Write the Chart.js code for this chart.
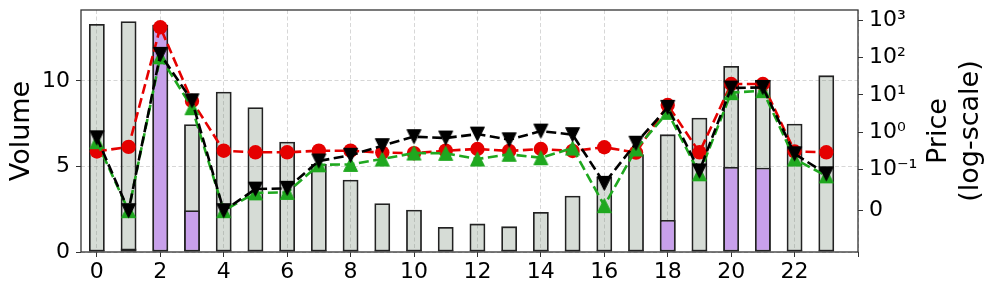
<!DOCTYPE html>
<html>
<head>
<meta charset="utf-8">
<script src="https://cdn.jsdelivr.net/npm/chart.js@4/dist/chart.umd.min.js"></script>
<style>
  body { margin: 0; background: #fff; }
</style>
</head>
<body>
<canvas id="myChart" width="996" height="294"></canvas>
<script>
const hours = [0, 1, 2, 3, 4, 5, 6, 7, 8, 9, 10, 11, 12, 13, 14, 15, 16, 17, 18, 19, 20, 21, 22, 23];

const volume = [13.33, 13.49, 13.29, 7.47, 9.37, 8.46, 6.45, 5.15, 4.23, 2.85, 2.47, 1.46,
  1.66, 1.5, 2.34, 3.29, 4.4, 5.71, 6.88, 7.85, 10.88, 10.06, 7.5, 10.33];
const volumePart = [0.1, 0.2, 13.29, 2.44, 0.1, 0.1, 0.1, 0.1, 0.1, 0.1, 0.1, 0.1,
  0.1, 0.1, 0.1, 0.1, 0.1, 0.1, 1.87, 0.1, 4.97, 4.93, 0.1, 0.1];

const priceCircle = [0.3, 0.4, 650, 6.8, 0.315, 0.285, 0.285, 0.315, 0.315, 0.28, 0.27, 0.315,
  0.35, 0.31, 0.35, 0.31, 0.39, 0.28, 5.3, 0.285, 19.5, 19.5, 0.3, 0.285];
const priceDown = [0.7, 0, 122, 6.9, 0, 0.052, 0.054, 0.167, 0.237, 0.43, 0.75, 0.69,
  0.88, 0.62, 1.06, 0.85, 0.066, 0.5, 4.6, 0.096, 15.2, 15.8, 0.26, 0.089];
const priceUp = [0.55, 0, 105, 4.5, 0, 0.043, 0.044, 0.132, 0.135, 0.188, 0.273, 0.268,
  0.188, 0.252, 0.204, 0.372, 0.012, 0.35, 3.38, 0.089, 11.4, 12.9, 0.188, 0.084];

const priceTicks = [0, 0.1, 1, 10, 100, 1000];
const priceTickLabels = ["0", "10\u207B\u00B9", "10\u2070", "10\u00B9", "10\u00B2", "10\u00B3"];

// symlog, linthresh 0.1, linscale 1
const linthresh = 0.1;
const linscale = 1 / (1 - 1 / 10);
function symlog(v) {
  const a = Math.abs(v);
  if (a <= linthresh) return (v / linthresh) * linscale;
  return Math.sign(v) * (linscale + Math.log10(a / linthresh));
}

function triangle(color, down) {
  const c = document.createElement("canvas");
  c.width = 17;
  c.height = 17;
  const g = c.getContext("2d");
  g.fillStyle = color;
  g.strokeStyle = color;
  g.lineWidth = 1;
  g.beginPath();
  if (down) {
    g.moveTo(8.5, 15.5);
    g.lineTo(1.5, 1.5);
    g.lineTo(15.5, 1.5);
  } else {
    g.moveTo(8.5, 1.5);
    g.lineTo(1.5, 15.5);
    g.lineTo(15.5, 15.5);
  }
  g.closePath();
  g.fill();
  g.stroke();
  return c;
}

const gridColor = "rgba(170,170,170,0.6)";
const axisColor = "#333";
const font = { family: "DejaVu Sans", size: 22 };

const framePlugin = {
  id: "frame",
  afterDraw(chart) {
    const { ctx, chartArea: a } = chart;
    ctx.save();
    ctx.strokeStyle = axisColor;
    ctx.lineWidth = 1.3;
    ctx.strokeRect(a.left, a.top, a.right - a.left, a.bottom - a.top);

    ctx.fillStyle = "#000";
    ctx.font = "27px 'DejaVu Sans'";
    ctx.textAlign = "center";
    ctx.textBaseline = "middle";
    const label = (text, x, y) => {
      ctx.save();
      ctx.translate(x, y);
      ctx.rotate(-Math.PI / 2);
      ctx.fillText(text, 0, 0);
      ctx.restore();
    };
    label("Volume", 22, 131);
    label("Price", 939, 131);
    label("(log-scale)", 971, 131);
    ctx.restore();
  },
};

const noPad = (s) => {
  s.paddingTop = 0;
  s.paddingBottom = 0;
  s.paddingLeft = 0;
  s.paddingRight = 0;
};

const ctx = document.getElementById("myChart").getContext("2d");

const lineBase = {
  type: "line",
  yAxisID: "y2",
  borderWidth: 2.6,
  borderDash: [10, 4.5],
  fill: false,
  tension: 0,
};

new Chart(ctx, {
  type: "bar",
  data: {
    datasets: [
      {
        ...lineBase,
        data: hours.map((h, i) => ({ x: h, y: symlog(priceDown[i]) })),
        borderColor: "#000",
        backgroundColor: "#000",
        pointStyle: triangle("#000", true),
        order: 0,
      },
      {
        ...lineBase,
        data: hours.map((h, i) => ({ x: h, y: symlog(priceUp[i]) })),
        borderColor: "#1fa81f",
        backgroundColor: "#1fa81f",
        pointStyle: triangle("#1fa81f", false),
        order: 1,
      },
      {
        ...lineBase,
        data: hours.map((h, i) => ({ x: h, y: symlog(priceCircle[i]) })),
        borderColor: "#e50000",
        backgroundColor: "#e50000",
        pointStyle: "circle",
        pointRadius: 7.2,
        pointBorderWidth: 0,
        order: 2,
      },
      {
        type: "bar",
        yAxisID: "y",
        data: hours.map((h, i) => ({ x: h, y: volumePart[i] })),
        backgroundColor: "#c8a0eb",
        borderColor: "#222",
        borderWidth: 1.8,
        borderSkipped: false,
        barPercentage: 0.5,
        categoryPercentage: 1,
        grouped: false,
        order: 3,
      },
      {
        type: "bar",
        yAxisID: "y",
        data: hours.map((h, i) => ({ x: h, y: volume[i] })),
        backgroundColor: "rgba(120,140,120,0.3)",
        borderColor: "#222",
        borderWidth: 1.8,
        borderSkipped: false,
        barPercentage: 0.5,
        categoryPercentage: 1,
        grouped: false,
        order: 4,
      },
    ],
  },
  options: {
    responsive: false,
    animation: false,
    layout: { padding: { top: 10, left: 0, right: 0, bottom: 0 } },
    plugins: { legend: { display: false }, tooltip: { enabled: false } },
    scales: {
      x: {
        type: "linear",
        offset: false,
        min: -0.5,
        max: 24,
        afterBuildTicks: (s) => {
          s.ticks = [0, 2, 4, 6, 8, 10, 12, 14, 16, 18, 20, 22, 24].map((v) => ({ value: v }));
        },
        afterFit: (s) => { s.height = 42; noPad(s); },
        ticks: {
          color: "#000",
          font,
          padding: 2,
          maxRotation: 0,
          autoSkip: false,
          callback: (v) => (v === 24 ? "" : String(v)),
        },
        grid: {
          offset: false,
          color: gridColor,
          lineWidth: 0.8,
          tickLength: 5,
          tickColor: axisColor,
          tickWidth: 1,
          tickBorderDash: [],
        },
        border: { display: false, dash: [4, 2.5] },
      },
      y: {
        position: "left",
        min: 0,
        max: 14.15,
        afterBuildTicks: (s) => {
          s.ticks = [0, 5, 10].map((v) => ({ value: v }));
        },
        afterFit: (s) => { s.width = 81; noPad(s); },
        ticks: { color: "#000", font, padding: 6 },
        grid: {
          color: gridColor,
          lineWidth: 0.8,
          tickLength: 5,
          tickColor: axisColor,
          tickWidth: 1,
          tickBorderDash: [],
        },
        border: { display: false, dash: [4, 2.5] },
      },
      y2: {
        position: "right",
        min: symlog(-0.1),
        max: symlog(1000) + 0.277,
        afterBuildTicks: (s) => {
          s.ticks = priceTicks.map((v) => ({ value: symlog(v) }));
        },
        afterFit: (s) => { s.width = 138; noPad(s); },
        ticks: {
          color: "#000",
          font,
          padding: 6,
          callback: (v, i) => priceTickLabels[i],
        },
        grid: {
          drawOnChartArea: false,
          tickLength: 5,
          tickColor: axisColor,
          tickWidth: 1,
        },
        border: { display: false },
      },
    },
  },
  plugins: [framePlugin],
});
</script>
</body>
</html>
